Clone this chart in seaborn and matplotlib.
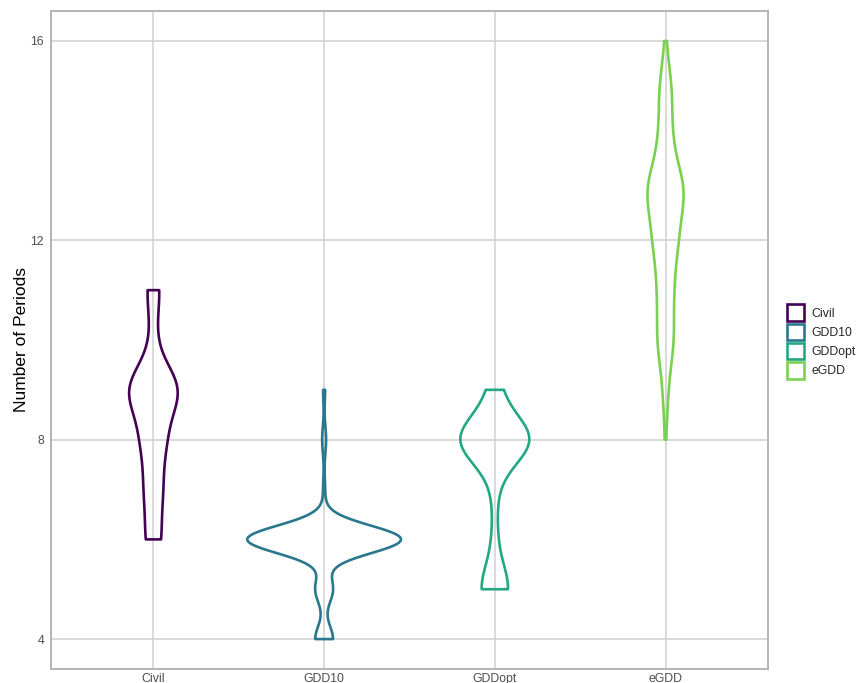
import numpy as np
import pandas as pd
import matplotlib
matplotlib.use("Agg")
import matplotlib.pyplot as plt
import seaborn as sns
from matplotlib.patches import Patch

categories = ["Civil", "GDD10", "GDDopt", "eGDD"]
colors = ["#440154", "#2A788E", "#22A884", "#7AD151"]

# number of sites per period count
civil_periods = [6, 7, 8, 9, 10, 11]
civil_counts = [12, 14, 19, 41, 4, 10]
gdd10_periods = [4, 5, 6, 7, 8, 9]
gdd10_counts = [9, 9, 78, 1, 2, 1]
gddopt_periods = [5, 6, 7, 8, 9]
gddopt_counts = [23, 4, 4, 60, 9]
egdd_periods = [8, 9, 10, 11, 12, 13, 14, 15, 16]
egdd_counts = [1, 4, 13, 12, 19, 30, 10, 10, 1]

y_ticks = [4, 8, 12, 16]


def bw_nrd0(kde):
    # R's default bandwidth (bw.nrd0), returned as a factor of the sd for scipy
    x = kde.dataset.ravel()
    sd = np.std(x, ddof=1)
    q75, q25 = np.percentile(x, [75, 25])
    lo = min(sd, (q75 - q25) / 1.34)
    if lo == 0:
        lo = sd
    return 0.9 * lo * len(x) ** -0.2 / sd


frames = []
for name, vals, cnts in zip(categories,
                            [civil_periods, gdd10_periods, gddopt_periods, egdd_periods],
                            [civil_counts, gdd10_counts, gddopt_counts, egdd_counts]):
    frames.append(pd.DataFrame({"Method": name, "Periods": np.repeat(vals, cnts)}))
df = pd.concat(frames, ignore_index=True)

sns.set_style("white")
plt.rcParams["font.family"] = ["Liberation Sans", "DejaVu Sans"]

fig = plt.figure(figsize=(8.57, 6.83), dpi=100)
ax = fig.add_axes([0.0595, 0.0205, 0.8366, 0.9634])

sns.violinplot(data=df, x="Method", y="Periods", hue="Method", order=categories,
               hue_order=categories, palette=colors, fill=False, inner=None, cut=0,
               width=0.9, density_norm="area", common_norm=True, bw_method=bw_nrd0,
               gridsize=512, linewidth=1.9, dodge=False, legend=False, ax=ax)

ax.set_xlim(-0.6, 3.6)
ax.set_ylim(3.4, 16.6)
ax.set_yticks(y_ticks)
ax.set_axisbelow(True)
ax.grid(True, color="#D0D0D0", linewidth=1.1)
for s in ax.spines.values():
    s.set_color("#B3B3B3")
    s.set_linewidth(1.4)
ax.tick_params(axis="both", length=2.75, width=0.8, color="#4D4D4D",
               labelcolor="#4D4D4D", labelsize=8.8, pad=2.2)
ax.tick_params(axis="x", pad=0)
ax.set_xlabel("")
ax.set_ylabel("Number of Periods", fontsize=12.5, color="black", labelpad=1)

handles = [Patch(facecolor="white", edgecolor=c, linewidth=1.9, label=n)
           for n, c in zip(categories, colors)]
fig.legend(handles=handles, loc="center left", bbox_to_anchor=(0.918, 0.5),
           frameon=False, fontsize=8.8, handlelength=1.4, handleheight=1.75,
           labelspacing=0.18, handletextpad=0.6, borderpad=0, borderaxespad=0)

fig.savefig("out.png", dpi=100)
